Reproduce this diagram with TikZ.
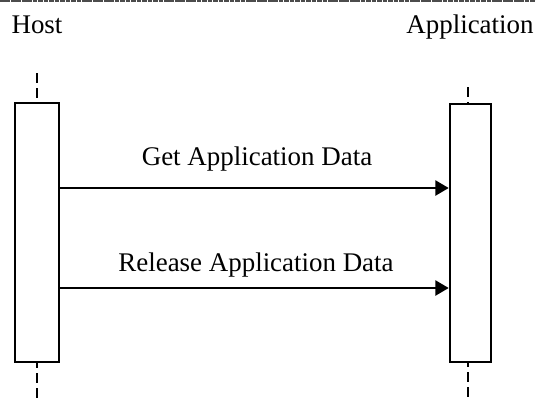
\documentclass[tikz,border=0pt]{standalone}
\usepackage{fontspec}
\setmainfont{Liberation Serif}
\usetikzlibrary{arrows.meta}
\begin{document}
\begin{tikzpicture}[x=0.75pt,y=-0.75pt,
  lbl/.style={font=\fontsize{20.2pt}{24pt}\selectfont, inner sep=0pt, anchor=base},
  actbox/.style={draw, line width=1.8pt, fill=white, inner sep=0pt},
  lifeline/.style={line width=1.6pt, dash pattern=on 7.5pt off 3.75pt},
  msg/.style={line width=2.2pt, -{Triangle[length=10pt,width=11pt]}},
  topline/.style={line width=1.2pt, gray!60!black, dash pattern=on 3.5pt off 0.6pt}]
\useasboundingbox (0,0) rectangle (536,401);
\fill[white] (0,0) rectangle (536,401);
\draw[topline] (0,0.8) -- (536,0.8);
% actor labels
\node[lbl] (host) at (37,33) {Host};
\node[lbl] (app) at (470,33) {Application};
% lifelines
\coordinate (htop) at (37,73);
\coordinate (hbot) at (37,401);
\coordinate (atop) at (468,87);
\coordinate (abot) at (468,401);
\draw[lifeline] (htop) -- (hbot);
\draw[lifeline] (atop) -- (abot);
% activation boxes
\node[actbox, minimum width=44*0.75pt, minimum height=259*0.75pt] (hostbox) at (37,232.5) {};
\node[actbox, minimum width=41*0.75pt, minimum height=258*0.75pt] (appbox) at (470.5,233) {};
% messages
\coordinate (m1) at (0,188);
\coordinate (m2) at (0,288);
\draw[msg] (hostbox.east |- m1) -- (appbox.west |- m1);
\draw[msg] (hostbox.east |- m2) -- (appbox.west |- m2);
\node[lbl] (l1) at (257,165) {Get Application Data};
\node[lbl] (l2) at (256,271) {Release Application Data};
\end{tikzpicture}
\end{document}
